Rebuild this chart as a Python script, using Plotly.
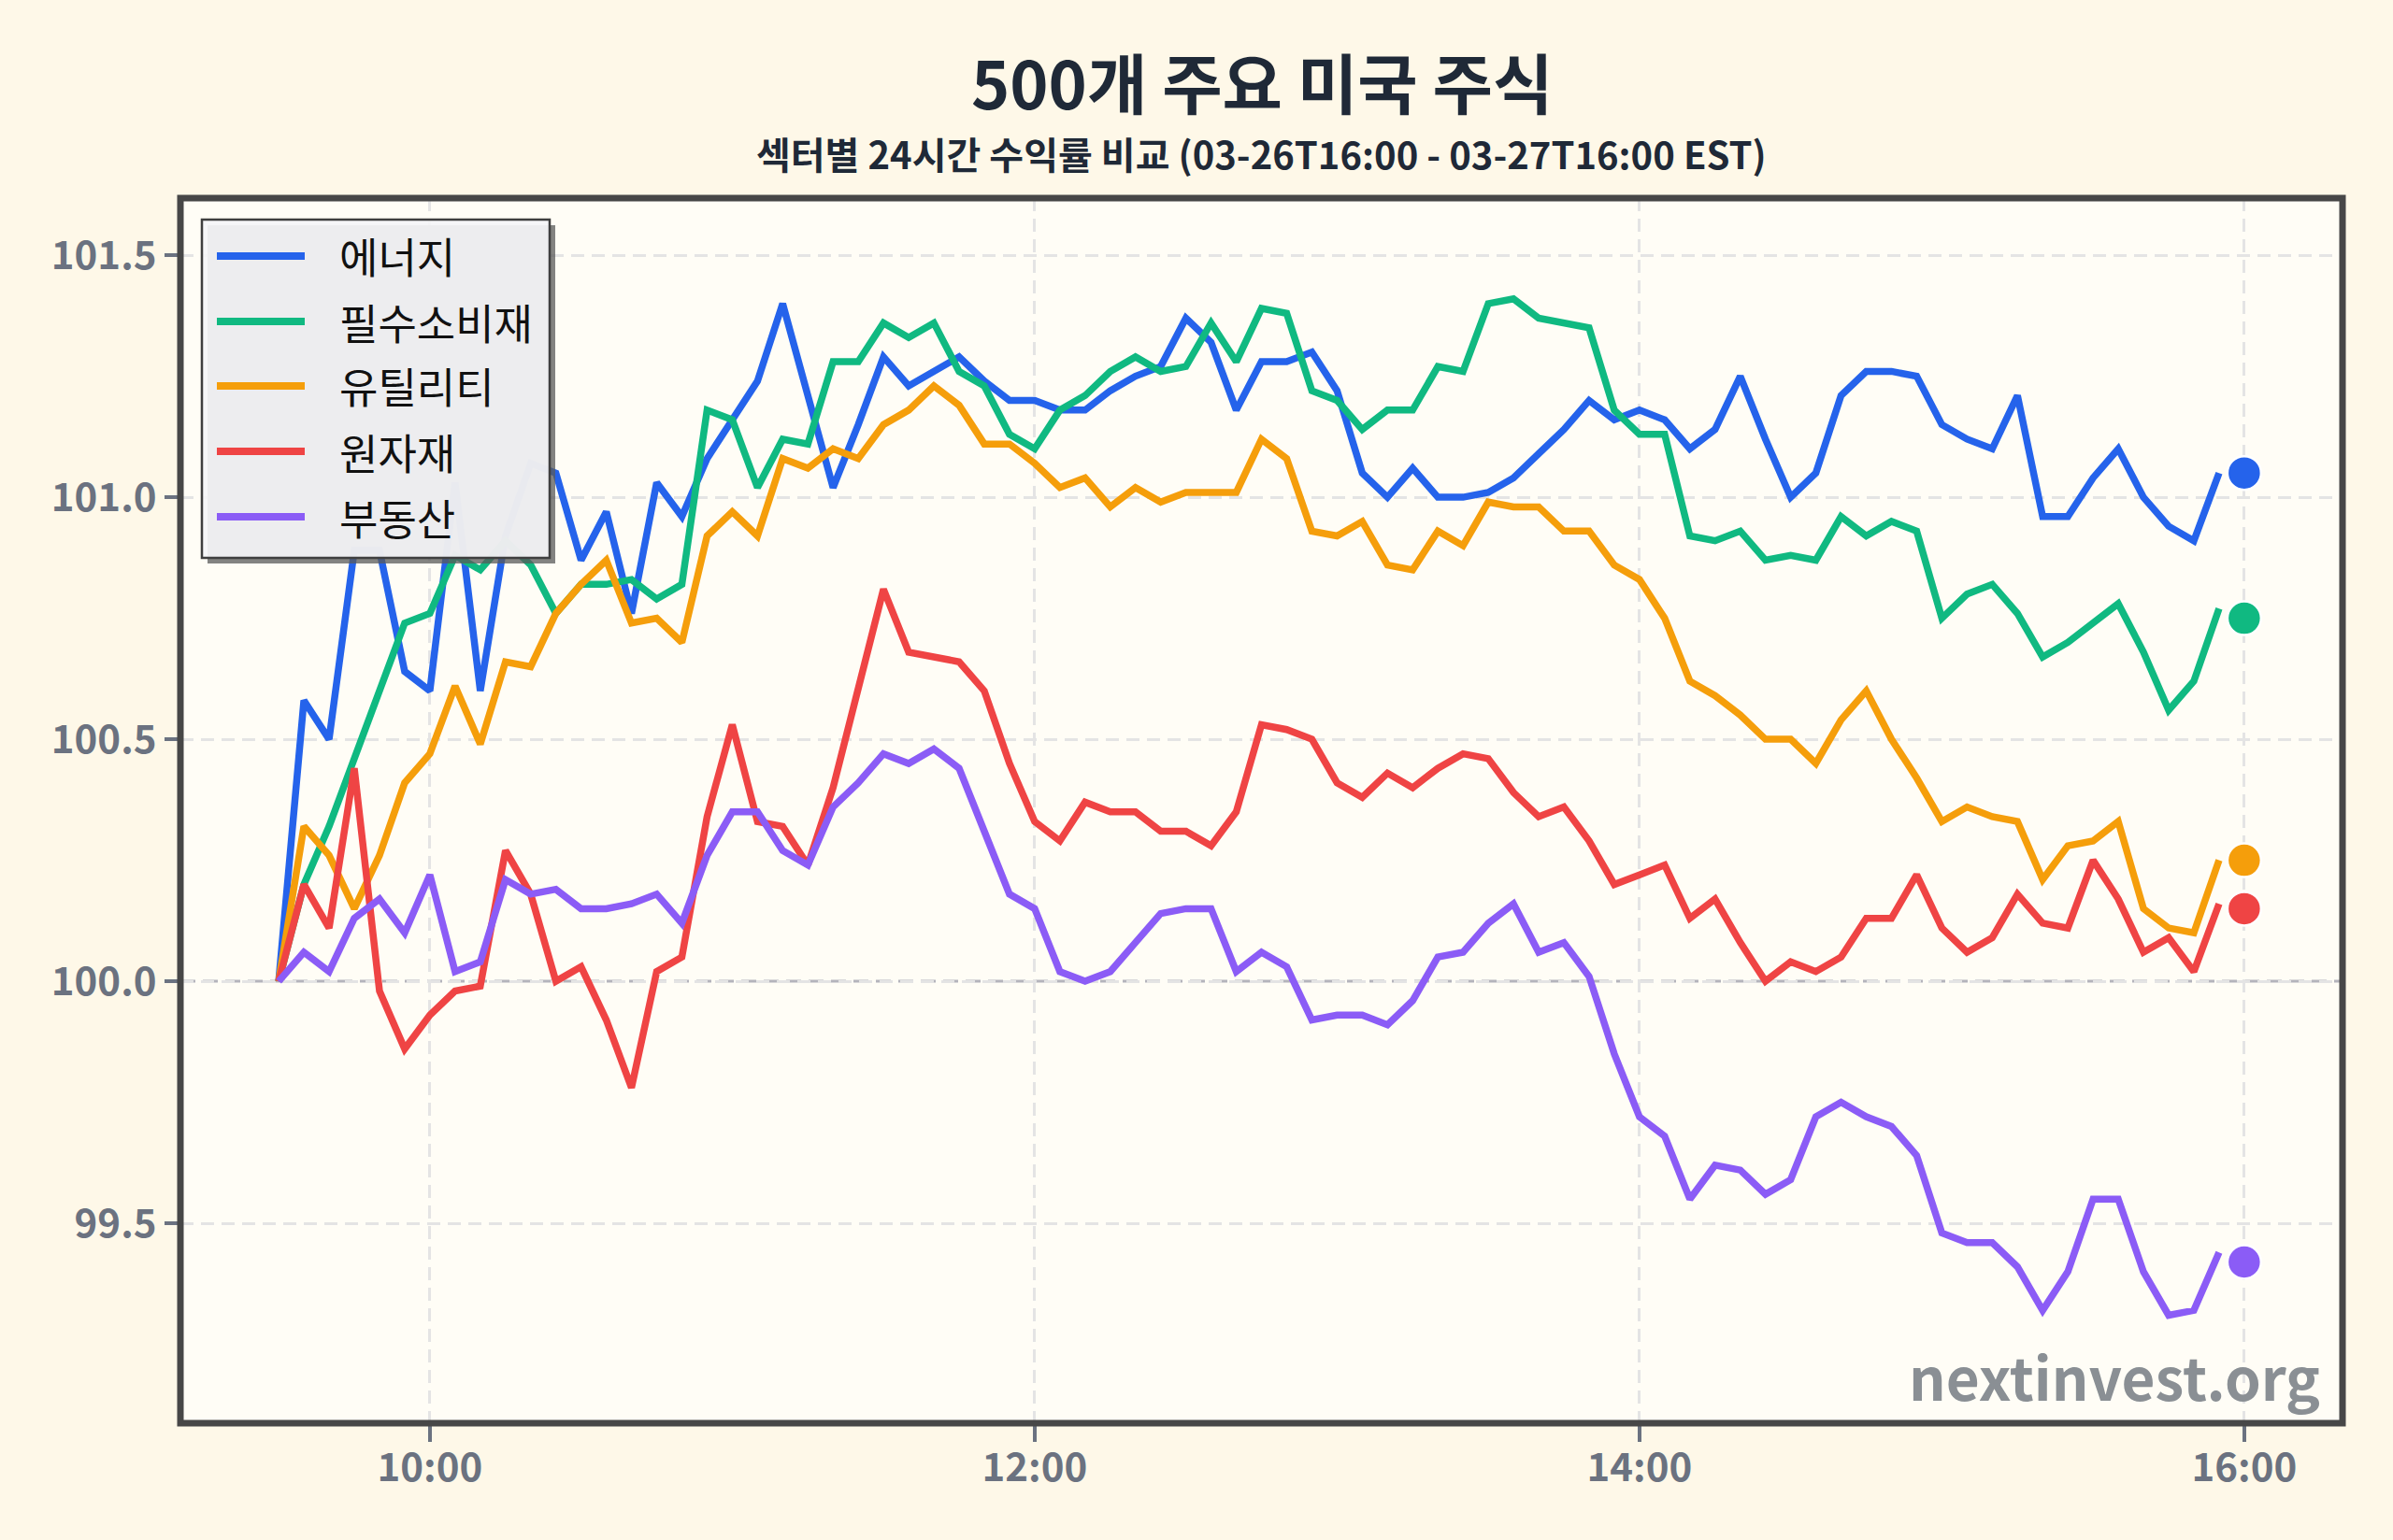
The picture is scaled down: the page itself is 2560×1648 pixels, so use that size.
import plotly.graph_objects as go
import pandas as pd

# ---------------- data ----------------
SECTORS = ["에너지", "필수소비재", "유틸리티", "원자재", "부동산"]
COLORS = ["#2563eb", "#10b981", "#f59e0b", "#ef4444", "#8b5cf6"]

SESSION_DATE = "2025-03-27"
SESSION_START = "09:30"
STEP = "5min"
CLOSE_TIME = "16:00"

energy = [
    100.00, 100.58, 100.50, 100.89, 100.89, 100.64, 100.60, 101.03, 100.60, 100.92,
    101.07, 101.05, 100.87, 100.97, 100.76, 101.03, 100.96, 101.08, 101.16, 101.24,
    101.40, 101.21, 101.02, 101.15, 101.29, 101.23, 101.26, 101.29, 101.24, 101.20,
    101.20, 101.18, 101.18, 101.22, 101.25, 101.27, 101.37, 101.32, 101.18, 101.28,
    101.28, 101.30, 101.22, 101.05, 101.00, 101.06, 101.00, 101.00, 101.01, 101.04,
    101.09, 101.14, 101.20, 101.16, 101.18, 101.16, 101.10, 101.14, 101.25, 101.12,
    101.00, 101.05, 101.21, 101.26, 101.26, 101.25, 101.15, 101.12, 101.10, 101.21,
    100.96, 100.96, 101.04, 101.10, 101.00, 100.94, 100.91, 101.05]

staples = [
    100.00, 100.20, 100.32, 100.46, 100.60, 100.74, 100.76, 100.88, 100.85, 100.91,
    100.86, 100.76, 100.82, 100.82, 100.83, 100.79, 100.82, 101.18, 101.16, 101.02,
    101.12, 101.11, 101.28, 101.28, 101.36, 101.33, 101.36, 101.26, 101.23, 101.13,
    101.10, 101.18, 101.21, 101.26, 101.29, 101.26, 101.27, 101.36, 101.28, 101.39,
    101.38, 101.22, 101.20, 101.14, 101.18, 101.18, 101.27, 101.26, 101.40, 101.41,
    101.37, 101.36, 101.35, 101.18, 101.13, 101.13, 100.92, 100.91, 100.93, 100.87,
    100.88, 100.87, 100.96, 100.92, 100.95, 100.93, 100.75, 100.80, 100.82, 100.76,
    100.67, 100.70, 100.74, 100.78, 100.68, 100.56, 100.62, 100.77]

utilities = [
    100.00, 100.32, 100.26, 100.15, 100.26, 100.41, 100.47, 100.61, 100.49, 100.66,
    100.65, 100.76, 100.82, 100.87, 100.74, 100.75, 100.70, 100.92, 100.97, 100.92,
    101.08, 101.06, 101.10, 101.08, 101.15, 101.18, 101.23, 101.19, 101.11, 101.11,
    101.07, 101.02, 101.04, 100.98, 101.02, 100.99, 101.01, 101.01, 101.01, 101.12,
    101.08, 100.93, 100.92, 100.95, 100.86, 100.85, 100.93, 100.90, 100.99, 100.98,
    100.98, 100.93, 100.93, 100.86, 100.83, 100.75, 100.62, 100.59, 100.55, 100.50,
    100.50, 100.45, 100.54, 100.60, 100.50, 100.42, 100.33, 100.36, 100.34, 100.33,
    100.21, 100.28, 100.29, 100.33, 100.15, 100.11, 100.10, 100.25]

materials = [
    100.00, 100.20, 100.11, 100.44, 99.98, 99.86, 99.93, 99.98, 99.99, 100.27,
    100.18, 100.00, 100.03, 99.92, 99.78, 100.02, 100.05, 100.34, 100.53, 100.33,
    100.32, 100.24, 100.40, 100.60, 100.81, 100.68, 100.67, 100.66, 100.60, 100.45,
    100.33, 100.29, 100.37, 100.35, 100.35, 100.31, 100.31, 100.28, 100.35, 100.53,
    100.52, 100.50, 100.41, 100.38, 100.43, 100.40, 100.44, 100.47, 100.46, 100.39,
    100.34, 100.36, 100.29, 100.20, 100.22, 100.24, 100.13, 100.17, 100.08, 100.00,
    100.04, 100.02, 100.05, 100.13, 100.13, 100.22, 100.11, 100.06, 100.09, 100.18,
    100.12, 100.11, 100.25, 100.17, 100.06, 100.09, 100.02, 100.16]

real_estate = [
    100.00, 100.06, 100.02, 100.13, 100.17, 100.10, 100.22, 100.02, 100.04, 100.21,
    100.18, 100.19, 100.15, 100.15, 100.16, 100.18, 100.12, 100.26, 100.35, 100.35,
    100.27, 100.24, 100.36, 100.41, 100.47, 100.45, 100.48, 100.44, 100.31, 100.18,
    100.15, 100.02, 100.00, 100.02, 100.08, 100.14, 100.15, 100.15, 100.02, 100.06,
    100.03, 99.92, 99.93, 99.93, 99.91, 99.96, 100.05, 100.06, 100.12, 100.16,
    100.06, 100.08, 100.01, 99.85, 99.72, 99.68, 99.55, 99.62, 99.61, 99.56,
    99.59, 99.72, 99.75, 99.72, 99.70, 99.64, 99.48, 99.46, 99.46, 99.41,
    99.32, 99.40, 99.55, 99.55, 99.40, 99.31, 99.32, 99.44]

close_values = [101.05, 100.75, 100.25, 100.15, 99.42]

X_TICKS = ["10:00", "12:00", "14:00", "16:00"]
Y_TICKS = [99.5, 100.0, 100.5, 101.0, 101.5]
BASELINE = 100.0

TITLE = "500개 주요 미국 주식"
SUBTITLE = "섹터별 24시간 수익률 비교 (03-26T16:00 - 03-27T16:00 EST)"
WATERMARK = "nextinvest.org"

# ---------------- styling ----------------
W, H = 2560, 1648
PL, PR, PT, PB = 193, 2506, 212, 1523
FONT = "Noto Sans CJK KR"
PAGE_BG = "#fef8e8"
PLOT_BG = "#fffdf6"
TICK_COL = "#6b7280"
FRAME_COL = "#474747"


def px_x(X):
    return (X - PL) / (PR - PL)


def px_y(Y):
    return (PB - Y) / (PB - PT)


series = [energy, staples, utilities, materials, real_estate]
times = pd.date_range(f"{SESSION_DATE} {SESSION_START}", periods=len(energy), freq=STEP)
close_ts = pd.Timestamp(f"{SESSION_DATE} {CLOSE_TIME}")

fig = go.Figure()
for name, col, vals in zip(SECTORS, COLORS, series):
    fig.add_trace(go.Scatter(
        x=times, y=vals, mode="lines", name=name,
        line=dict(color=col, width=7.5),
        showlegend=False,
    ))
for name, col, v in zip(SECTORS, COLORS, close_values):
    fig.add_trace(go.Scatter(
        x=[close_ts], y=[v], mode="markers", name=name,
        marker=dict(color=col, size=36, line=dict(color="white", width=2.5)),
        showlegend=False,
    ))

x_range = [pd.Timestamp(f"{SESSION_DATE} 09:10:30"), pd.Timestamp(f"{SESSION_DATE} 16:19:30")]
tick_vals = [pd.Timestamp(f"{SESSION_DATE} {t}") for t in X_TICKS]

tickfont = dict(family=FONT, size=42, color=TICK_COL, weight="bold")

fig.update_layout(
    width=W, height=H,
    margin=dict(l=PL, r=W - PR, t=PT, b=H - PB, pad=0),
    paper_bgcolor=PAGE_BG,
    plot_bgcolor=PLOT_BG,
    showlegend=False,
    xaxis=dict(
        type="date", range=x_range,
        tickvals=tick_vals, ticktext=X_TICKS,
        showgrid=True, gridcolor="#e4e4e4", gridwidth=2.5, griddash="14px,8px",
        ticks="outside", ticklen=19, tickwidth=4, tickcolor=TICK_COL,
        ticklabelstandoff=-8,
        tickfont=tickfont, showline=False, zeroline=False,
    ),
    yaxis=dict(
        range=[99.087, 101.618],
        tickvals=Y_TICKS, ticktext=[f"{v:.1f}" for v in Y_TICKS],
        showgrid=True, gridcolor="#e4e4e4", gridwidth=2.5, griddash="14px,8px",
        ticks="outside", ticklen=16, tickwidth=4, tickcolor=TICK_COL,
        tickfont=tickfont, showline=False, zeroline=False,
    ),
)

shapes = []
# baseline at 100
shapes.append(dict(type="line", xref="paper", yref="y", x0=0, x1=1, y0=BASELINE, y1=BASELINE,
                   line=dict(color="#b4b4bc", width=3, dash="16px,8px"), layer="between"))
# frame
shapes.append(dict(type="rect", xref="paper", yref="paper", x0=0, x1=1, y0=0, y1=1,
                   line=dict(color=FRAME_COL, width=7), layer="above"))
# legend box (shadow + box)
LB = dict(x0=216, x1=588, y0=235, y1=597)
SH = 6
shapes.append(dict(type="rect", xref="paper", yref="paper",
                   x0=px_x(LB["x0"] + SH), x1=px_x(LB["x1"] + SH),
                   y0=px_y(LB["y1"] + SH), y1=px_y(LB["y0"] + SH),
                   fillcolor="rgba(90,90,90,0.75)", line=dict(width=0), layer="above"))
shapes.append(dict(type="rect", xref="paper", yref="paper",
                   x0=px_x(LB["x0"]), x1=px_x(LB["x1"]),
                   y0=px_y(LB["y1"]), y1=px_y(LB["y0"]),
                   fillcolor="rgba(245,245,247,0.93)", line=dict(color="#3f3f3f", width=2.5),
                   layer="above"))
ROW_Y = [274, 344, 413, 483, 553]
for col, ry in zip(COLORS, ROW_Y):
    shapes.append(dict(type="line", xref="paper", yref="paper",
                       x0=px_x(232), x1=px_x(326), y0=px_y(ry), y1=px_y(ry),
                       line=dict(color=col, width=8), layer="above"))
fig.update_layout(shapes=shapes)

annotations = [
    dict(text=TITLE, xref="paper", yref="paper", x=0.5, y=px_y(86), xanchor="center", yanchor="middle",
         showarrow=False, font=dict(family=FONT, size=70, color="#1f2937", weight="bold")),
    dict(text=SUBTITLE, xref="paper", yref="paper", x=0.5, y=px_y(164), xanchor="center", yanchor="middle",
         showarrow=False, font=dict(family=FONT, size=40, color="#1f2937", weight="bold")),
    dict(text=WATERMARK, xref="paper", yref="paper", x=px_x(2484), y=px_y(1472), xanchor="right",
         yanchor="middle", showarrow=False,
         font=dict(family=FONT, size=62, color="#8a8f94", weight="bold")),
]
for name, ry in zip(SECTORS, ROW_Y):
    annotations.append(dict(text=name, xref="paper", yref="paper", x=px_x(361), y=px_y(ry),
                            xanchor="left", yanchor="middle", showarrow=False,
                            font=dict(family=FONT, size=45, color="#111111")))
fig.update_layout(annotations=annotations)

fig.write_html("out.html")
